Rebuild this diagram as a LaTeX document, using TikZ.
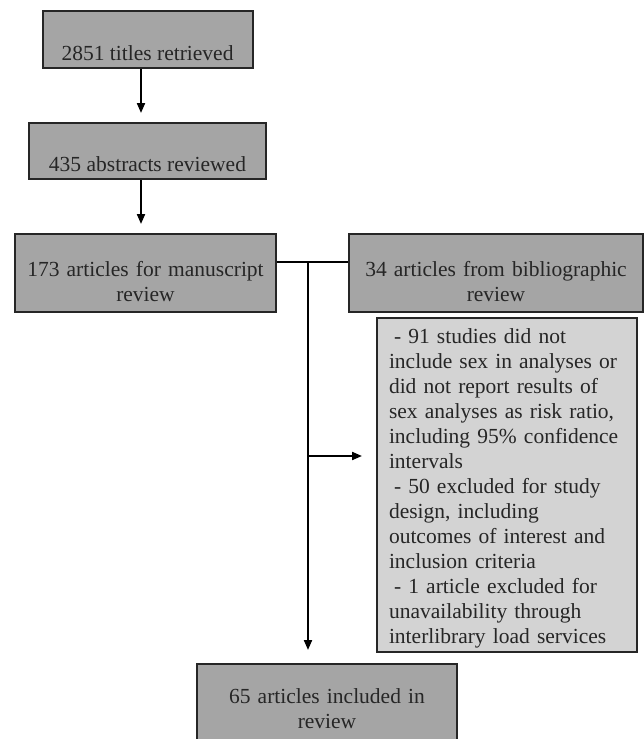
\documentclass[tikz,border=0pt]{standalone}
\usepackage{fontspec}
\setmainfont{Liberation Serif}
\usetikzlibrary{arrows.meta}
\definecolor{boxgray}{HTML}{A5A5A5}
\definecolor{notegray}{HTML}{D3D3D3}
\tikzset{
  stage/.style={draw=black!85,line width=2pt,fill=boxgray,inner sep=0pt,anchor=north,align=center},
  note/.style={draw=black!85,line width=2pt,fill=notegray,inner xsep=12pt,inner ysep=0pt,anchor=north,align=left,text width=236pt},
  flow/.style={line width=2pt,-{Triangle[length=10pt,width=8pt]}}
}
\begin{document}
\begin{tikzpicture}[x=1pt,y=-1pt,font=\fontsize{21.5}{25}\selectfont,text=black!85]
\useasboundingbox (0,0) rectangle (644,739);

\node[stage,minimum width=210pt,text height=49pt,text depth=8pt](titles) at (147.5,10){2851 titles retrieved};
\node[stage,minimum width=237pt,text height=48.5pt,text depth=7.5pt](abstracts) at (147.5,122){435 abstracts reviewed};
\node[stage,text width=261pt,text height=42pt,text depth=36pt](manuscript) at (145.5,233){173 articles for manuscript\\review};
\node[stage,text width=294pt,text height=42pt,text depth=36pt](biblio) at (496,233){34 articles from bibliographic\\review};
\node[note,text height=25pt,text depth=309pt](excluded) at (507,317){\hspace*{5pt}- 91 studies did not\\include sex in analyses or\\did not report results of\\sex analyses as risk ratio,\\including 95\% confidence\\intervals\\\hspace*{5pt}- 50 excluded for study\\design, including\\outcomes of interest and\\inclusion criteria\\\hspace*{5pt}- 1 article excluded for\\unavailability through\\interlibrary load services};
\node[stage,text width=260pt,text height=39pt,text depth=47pt](included) at (327,663){65 articles included in\\review};

\draw[flow,shorten >=9pt]([xshift=-6.5pt]titles.south)--([xshift=-6.5pt]titles.south |- abstracts.north);
\draw[flow,shorten >=9pt]([xshift=-6.5pt]abstracts.south)--([xshift=-6.5pt]abstracts.south |- manuscript.north);

\coordinate (split) at (308,262);
\coordinate (branch) at (308,456);
\draw[line width=2pt](manuscript.east |- split)--(biblio.west |- split);
\draw[flow,shorten >=13pt](split)--(split |- included.north);
\draw[flow,shorten >=14pt](branch)--(branch -| excluded.west);
\end{tikzpicture}
\end{document}
